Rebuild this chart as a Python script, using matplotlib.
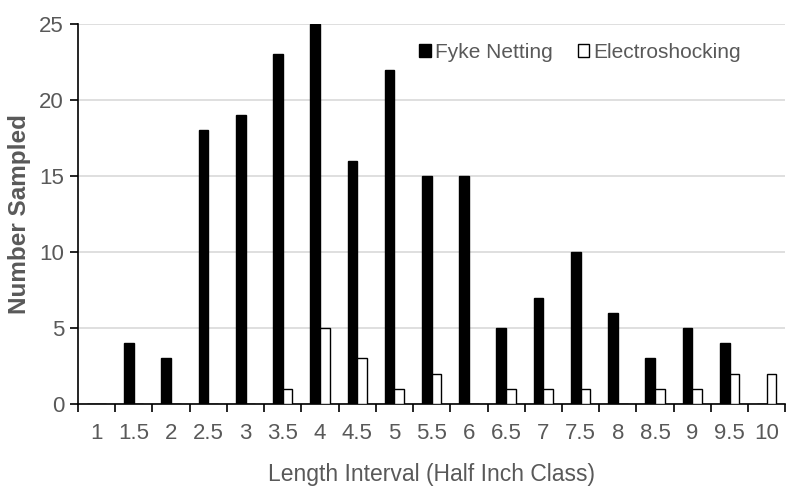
import matplotlib
matplotlib.use("Agg")
import matplotlib.pyplot as plt
import numpy as np

categories = ["1", "1.5", "2", "2.5", "3", "3.5", "4", "4.5", "5", "5.5",
              "6", "6.5", "7", "7.5", "8", "8.5", "9", "9.5", "10"]
fyke = [0, 4, 3, 18, 19, 23, 25, 16, 22, 15, 15, 5, 7, 10, 6, 3, 5, 4, 0]
electro = [0, 0, 0, 0, 0, 1, 5, 3, 1, 2, 0, 1, 1, 1, 0, 1, 1, 2, 2]
yticks = [0, 5, 10, 15, 20, 25]

plt.rcParams['font.family'] = ['Liberation Sans', 'DejaVu Sans']

fig = plt.figure(figsize=(7.86, 4.87), dpi=100)
ax = fig.add_axes([0.0992, 0.1704, 0.9, 0.7803])

x = np.arange(len(categories))
w = 0.26
ax.bar(x - w / 2, fyke, w, color='black', edgecolor='black', linewidth=1, label='Fyke Netting', zorder=3)
ax.bar(x + w / 2, electro, w, color='white', edgecolor='black', linewidth=1, label='Electroshocking', zorder=3)

ax.set_xlim(-0.5, len(categories) - 0.5)
ax.set_ylim(0, 25)
ax.set_yticks(yticks)
ax.yaxis.grid(True, color='#d9d9d9', linewidth=1.2, zorder=0)
ax.set_axisbelow(True)

ax.set_xticks(x)
ax.set_xticklabels(categories)
ax.set_xticks(np.arange(-0.5, len(categories), 1), minor=True)
ax.tick_params(axis='x', which='major', length=0, pad=14, labelsize=16, labelcolor='#595959')
ax.tick_params(axis='x', which='minor', length=6, width=1.2, direction='out', color='black')
ax.tick_params(axis='y', length=6, width=1.2, direction='out', color='black', labelsize=16, labelcolor='#595959', pad=4)

for s in ['top', 'right']:
    ax.spines[s].set_visible(False)
ax.spines['left'].set_linewidth(1.2)
ax.spines['bottom'].set_linewidth(1.2)

ax.set_xlabel('Length Interval (Half Inch Class)', fontsize=16.5, color='#595959', labelpad=13)
ax.set_ylabel('Number Sampled', fontsize=17.5, color='#595959', fontweight='bold', labelpad=6)

leg = ax.legend(loc='upper center', bbox_to_anchor=(0.71, 1.0), ncol=2, frameon=False,
                fontsize=15, handlelength=0.55, handleheight=0.55, handletextpad=0.2,
                columnspacing=1.2, labelcolor='#595959')

fig.savefig('out.png', dpi=100)
